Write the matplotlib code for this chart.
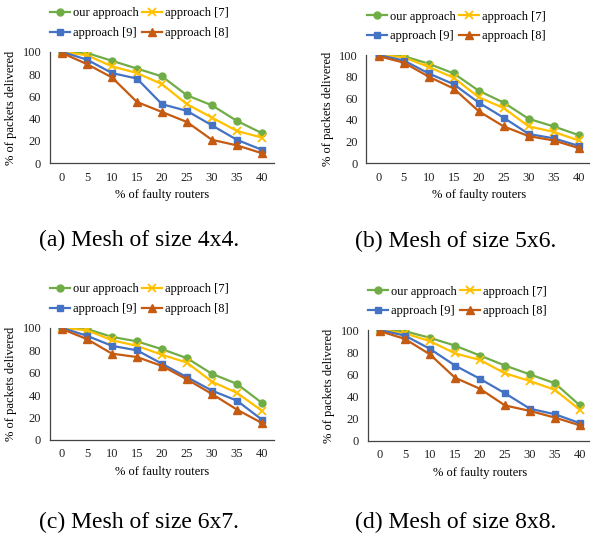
import matplotlib
matplotlib.use('Agg')
import matplotlib.pyplot as plt

plt.rcParams['font.family'] = ['Liberation Serif', 'DejaVu Serif']

faults = ['0', '5', '10', '15', '20', '25', '30', '35', '40']

# % of packets delivered per mesh size
ours_4x4 = [100, 99, 92, 85, 78, 61, 52, 38, 27]
ap7_4x4 = [100, 97, 87, 81, 71, 53, 41, 29, 23]
ap9_4x4 = [100, 93, 81, 76, 53, 47, 34, 21, 12]
ap8_4x4 = [99, 89, 77, 55, 46, 37, 21, 16, 9]

ours_5x6 = [100, 99, 92, 83, 67, 56, 41, 34, 26]
ap7_5x6 = [100, 98, 89, 79, 61, 51, 34, 29, 21]
ap9_5x6 = [100, 95, 83, 73, 56, 42, 27, 23, 16]
ap8_5x6 = [99, 93, 80, 69, 48, 34, 25, 21, 14]

ours_6x7 = [100, 99, 92, 88, 81, 73, 59, 50, 33]
ap7_6x7 = [100, 98, 89, 84, 76, 69, 52, 42, 26]
ap9_6x7 = [100, 93, 84, 80, 68, 56, 44, 35, 18]
ap8_6x7 = [99, 90, 77, 74, 66, 54, 41, 27, 15]

ours_8x8 = [100, 99, 93, 86, 77, 68, 60, 52, 32]
ap7_8x8 = [100, 97, 90, 79, 73, 61, 54, 46, 28]
ap9_8x8 = [100, 95, 83, 68, 56, 43, 29, 24, 16]
ap8_8x8 = [99, 92, 78, 57, 47, 32, 27, 21, 14]

captions = ['(a) Mesh of size 4x4.', '(b) Mesh of size 5x6.',
            '(c) Mesh of size 6x7.', '(d) Mesh of size 8x8.']

panels = [
    (ours_4x4, ap7_4x4, ap9_4x4, ap8_4x4),
    (ours_5x6, ap7_5x6, ap9_5x6, ap8_5x6),
    (ours_6x7, ap7_6x7, ap9_6x7, ap8_6x7),
    (ours_8x8, ap7_8x8, ap9_8x8, ap8_8x8),
]

# axes rectangles [left, bottom, width, height] in figure fractions
rects = [
    [0.084, 0.695, 0.381, 0.208],
    [0.621, 0.695, 0.381, 0.202],
    [0.084, 0.178, 0.381, 0.209],
    [0.623, 0.176, 0.381, 0.207],
]
caption_pos = [(0.236, 0.551), (0.773, 0.548), (0.236, 0.024), (0.773, 0.024)]

green = '#70AD47'
yellow = '#FFC000'
blue = '#4472C4'
orange = '#C55A11'

fig = plt.figure(figsize=(5.9, 5.35), dpi=100)

for rect, data, cap, cpos in zip(rects, panels, captions, caption_pos):
    ours, ap7, ap9, ap8 = data
    ax = fig.add_axes(rect)
    x = range(len(faults))
    l1, = ax.plot(x, ours, color=green, marker='o', ms=5, lw=1.6, label='our approach')
    l2, = ax.plot(x, ap7, color=yellow, marker='x', ms=6, mew=1.3, lw=1.6, label='approach [7]')
    l3, = ax.plot(x, ap9, color=blue, marker='s', ms=5, lw=1.6, label='approach [9]')
    l4, = ax.plot(x, ap8, color=orange, marker='^', ms=5.5, lw=1.6, label='approach [8]')

    ax.set_xlim(-0.5, 8.5)
    ax.set_ylim(0, 100)
    ax.set_yticks([0, 20, 40, 60, 80, 100])
    ax.set_xticks(list(x))
    ax.set_xticklabels(faults)
    ax.tick_params(length=0, labelsize=9, colors='#222222', pad=6)
    ax.spines['top'].set_visible(False)
    ax.spines['right'].set_visible(False)
    for s in ('left', 'bottom'):
        ax.spines[s].set_color('#444444')
        ax.spines[s].set_linewidth(0.9)
    ax.set_xlabel('% of faulty routers', fontsize=9, labelpad=4)
    ax.set_ylabel('% of packets delivered', fontsize=9, labelpad=4)

    ax.legend([l1, l3, l2, l4],
              ['our approach', 'approach [9]', 'approach [7]', 'approach [8]'],
              ncol=2, loc='lower center', bbox_to_anchor=(0.40, 1.06),
              frameon=False, fontsize=9, handlelength=1.6,
              handletextpad=0.2, columnspacing=0.3, labelspacing=0.6,
              borderpad=0.0)

    fig.text(cpos[0], cpos[1], cap, fontsize=17, ha='center', va='center')

fig.savefig('out.png', dpi=100)
